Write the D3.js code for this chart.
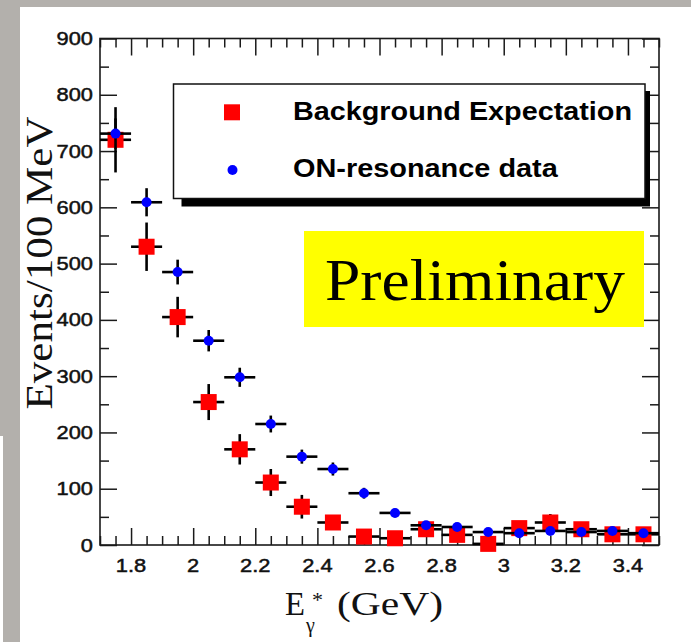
<!DOCTYPE html>
<html>
<head>
<meta charset="utf-8">
<script src="https://cdn.jsdelivr.net/npm/d3@7"></script>
<style>
  html, body { margin: 0; padding: 0; background: #ffffff; }
  svg { display: block; }
</style>
</head>
<body>
<svg id="chart" width="691" height="642"></svg>
<script>
// ---------------- data ----------------
const binCenters = [1.75, 1.85, 1.95, 2.05, 2.15, 2.25, 2.35, 2.45, 2.55, 2.65, 2.75, 2.85, 2.95, 3.05, 3.15, 3.25, 3.35, 3.45];
const binHalfWidth = 0.05;
const backgroundValues = [720, 530, 405, 254, 170, 111, 68, 40, 15, 12, 28, 18, 2, 30, 40, 28, 19, 19];
const backgroundErrors = [58, 43, 36, 32, 27, 24, 21, 12, 10, 10, 12, 11, 9, 12, 15, 12, 11, 11];
const onResValues = [731, 609, 485, 363, 298, 215, 157, 135, 92, 57, 35, 32, 23, 21, 25, 23, 25, 21];
const onResErrors = [27, 25, 22, 19, 17, 15, 12.5, 11.6, 9.6, 7.5, 6, 5.7, 4.8, 4.6, 5, 4.8, 5, 4.6];
const xMajorTicks = [1.8, 2.0, 2.2, 2.4, 2.6, 2.8, 3.0, 3.2, 3.4];
const xTickLabels = ["1.8", "2", "2.2", "2.4", "2.6", "2.8", "3", "3.2", "3.4"];
const yMajorTicks = [0, 100, 200, 300, 400, 500, 600, 700, 800, 900];
const yTickLabels = ["0", "100", "200", "300", "400", "500", "600", "700", "800", "900"];
const legendLabels = ["Background Expectation", "ON-resonance data"];

// ---------------- setup ----------------
const svg = d3.select("#chart");
const W = 691, H = 642;
const gray = "#b3b0ac";

svg.append("rect").attr("x", 0).attr("y", 0).attr("width", W).attr("height", H).attr("fill", "#ffffff");
svg.append("rect").attr("x", 0).attr("y", 0).attr("width", W).attr("height", 7).attr("fill", gray);
svg.append("rect").attr("x", 0).attr("y", 0).attr("width", 20).attr("height", 436).attr("fill", gray);
svg.append("rect").attr("x", 3).attr("y", 436).attr("width", 17).attr("height", 206).attr("fill", gray);

const plot = { left: 100, right: 659, top: 38.5, bottom: 545 };
const x = d3.scaleLinear().domain([1.7, 3.5]).range([plot.left, plot.right]);
const y = d3.scaleLinear().domain([0, 900]).range([plot.bottom, plot.top]);

function stretch(sel, factor) {
  sel.each(function () {
    const len = this.getComputedTextLength();
    d3.select(this).attr("textLength", len * factor).attr("lengthAdjust", "spacingAndGlyphs");
  });
  return sel;
}
function fitWidth(sel, width) {
  sel.attr("textLength", width).attr("lengthAdjust", "spacingAndGlyphs");
  return sel;
}

const xMinor = d3.range(1.7, 3.5001, 0.05).map(v => +v.toFixed(2)).filter(v => !xMajorTicks.some(m => Math.abs(m - v) < 1e-6));
const yMinor = d3.range(50, 900, 100);

const axStroke = "#1a1a1a";
function styleAxis(g) {
  g.select(".domain").remove();
  g.selectAll("text").remove();
  g.selectAll("line").attr("stroke", axStroke).attr("stroke-width", 1.5);
}
const fmtNone = () => "";
svg.append("g").attr("transform", `translate(0,${plot.bottom})`)
  .call(d3.axisBottom(x).tickValues(xMajorTicks).tickSize(-17).tickFormat(fmtNone)).call(styleAxis);
svg.append("g").attr("transform", `translate(0,${plot.bottom})`)
  .call(d3.axisBottom(x).tickValues(xMinor).tickSize(-9).tickFormat(fmtNone)).call(styleAxis);
svg.append("g").attr("transform", `translate(0,${plot.top})`)
  .call(d3.axisTop(x).tickValues(xMajorTicks).tickSize(-17).tickFormat(fmtNone)).call(styleAxis);
svg.append("g").attr("transform", `translate(0,${plot.top})`)
  .call(d3.axisTop(x).tickValues(xMinor).tickSize(-9).tickFormat(fmtNone)).call(styleAxis);
svg.append("g").attr("transform", `translate(${plot.left},0)`)
  .call(d3.axisLeft(y).tickValues(yMajorTicks).tickSize(-17).tickFormat(fmtNone)).call(styleAxis);
svg.append("g").attr("transform", `translate(${plot.left},0)`)
  .call(d3.axisLeft(y).tickValues(yMinor).tickSize(-9).tickFormat(fmtNone)).call(styleAxis);
svg.append("g").attr("transform", `translate(${plot.right},0)`)
  .call(d3.axisRight(y).tickValues(yMajorTicks).tickSize(-17).tickFormat(fmtNone)).call(styleAxis);
svg.append("g").attr("transform", `translate(${plot.right},0)`)
  .call(d3.axisRight(y).tickValues(yMinor).tickSize(-9).tickFormat(fmtNone)).call(styleAxis);

svg.append("rect")
  .attr("x", plot.left).attr("y", plot.top)
  .attr("width", plot.right - plot.left).attr("height", plot.bottom - plot.top)
  .attr("fill", "none").attr("stroke", axStroke).attr("stroke-width", 1.6);

// tick labels
const tickFont = "'Liberation Sans', Arial, Helvetica, sans-serif";
svg.append("g").selectAll("text").data(xMajorTicks).join("text")
  .attr("x", d => x(d)).attr("y", 572)
  .attr("text-anchor", "middle")
  .attr("font-family", tickFont).attr("font-size", 18.5).attr("fill", "#111")
  .attr("stroke", "#111").attr("stroke-width", 0.5)
  .text((d, i) => xTickLabels[i])
  .call(stretch, 1.18);
svg.append("g").selectAll("text").data(yMajorTicks).join("text")
  .attr("x", 93).attr("y", d => y(d) + 6.5)
  .attr("text-anchor", "end")
  .attr("font-family", tickFont).attr("font-size", 18.5).attr("fill", "#111")
  .attr("stroke", "#111").attr("stroke-width", 0.5)
  .text((d, i) => yTickLabels[i])
  .call(stretch, 1.18);

// ---------------- legend ----------------
const lg = { x: 173.5, y: 84, w: 471.5, h: 114.5 };
svg.append("rect").attr("x", lg.x + 8).attr("y", lg.y + 7).attr("width", lg.w - 3).attr("height", lg.h + 1).attr("fill", "#000");
svg.append("rect").attr("x", lg.x).attr("y", lg.y).attr("width", lg.w).attr("height", lg.h)
  .attr("fill", "#fff").attr("stroke", "#111").attr("stroke-width", 1.5);
svg.append("rect").attr("x", 232 - 8).attr("y", 112.3 - 8).attr("width", 16).attr("height", 16).attr("fill", "#ff0000");
svg.append("circle").attr("cx", 232.5).attr("cy", 170).attr("r", 5).attr("fill", "#0000ff");
const legText = svg.append("g").selectAll("text").data(legendLabels).join("text")
  .attr("x", 293).attr("y", (d, i) => i === 0 ? 120 : 177.3)
  .attr("font-family", tickFont).attr("font-weight", "bold").attr("font-size", 25).attr("fill", "#000")
  .text(d => d);
legText.filter((d, i) => i === 0).call(fitWidth, 339);
legText.filter((d, i) => i === 1).call(stretch, 1.155);

// ---------------- data marks ----------------
const bg = binCenters.map((c, i) => ({ c, v: backgroundValues[i], e: backgroundErrors[i] }));
const on = binCenters.map((c, i) => ({ c, v: onResValues[i], e: onResErrors[i] }));

function drawErrors(data) {
  const g = svg.append("g").attr("stroke", "#000").attr("stroke-width", 2.6);
  g.selectAll("line.h").data(data).join("line").attr("class", "h")
    .attr("x1", d => x(d.c - binHalfWidth)).attr("x2", d => x(d.c + binHalfWidth))
    .attr("y1", d => y(d.v)).attr("y2", d => y(d.v));
  g.selectAll("line.v").data(data).join("line").attr("class", "v")
    .attr("x1", d => x(d.c)).attr("x2", d => x(d.c))
    .attr("y1", d => y(d.v - d.e)).attr("y2", d => y(d.v + d.e));
}
drawErrors(bg);
svg.append("g").selectAll("rect").data(bg).join("rect")
  .attr("x", d => x(d.c) - 8).attr("y", d => y(d.v) - 8)
  .attr("width", 16).attr("height", 16).attr("fill", "#ff0000");
drawErrors(on);
svg.append("g").selectAll("circle").data(on).join("circle")
  .attr("cx", d => x(d.c)).attr("cy", d => y(d.v)).attr("r", 5).attr("fill", "#0000ff");

// ---------------- Preliminary box ----------------
svg.append("rect").attr("x", 304).attr("y", 231).attr("width", 340).attr("height", 96).attr("fill", "#ffff00");
svg.append("text").attr("x", 325).attr("y", 300)
  .attr("font-family", "'Liberation Serif', 'Times New Roman', serif").attr("font-size", 60).attr("fill", "#000")
  .text("Preliminary").call(fitWidth, 300);

// ---------------- axis titles ----------------
const serif = "'Liberation Serif', 'Times New Roman', serif";
svg.append("text")
  .attr("transform", "translate(52,263) rotate(-90)")
  .attr("text-anchor", "middle")
  .attr("font-family", serif).attr("font-size", 38).attr("fill", "#111")
  .text("Events/100 MeV").call(fitWidth, 293);

svg.append("text").attr("x", 285).attr("y", 615)
  .attr("font-family", serif).attr("font-size", 33).attr("fill", "#111")
  .text("E").call(fitWidth, 20);
svg.append("text").attr("x", 312).attr("y", 607)
  .attr("font-family", serif).attr("font-size", 22).attr("fill", "#111")
  .text("*");
svg.append("text").attr("x", 306).attr("y", 632)
  .attr("font-family", serif).attr("font-size", 20).attr("fill", "#111")
  .text("γ");
svg.append("text").attr("x", 337).attr("y", 615)
  .attr("font-family", serif).attr("font-size", 33).attr("fill", "#111")
  .text("(GeV)").call(fitWidth, 106);
</script>
</body>
</html>
